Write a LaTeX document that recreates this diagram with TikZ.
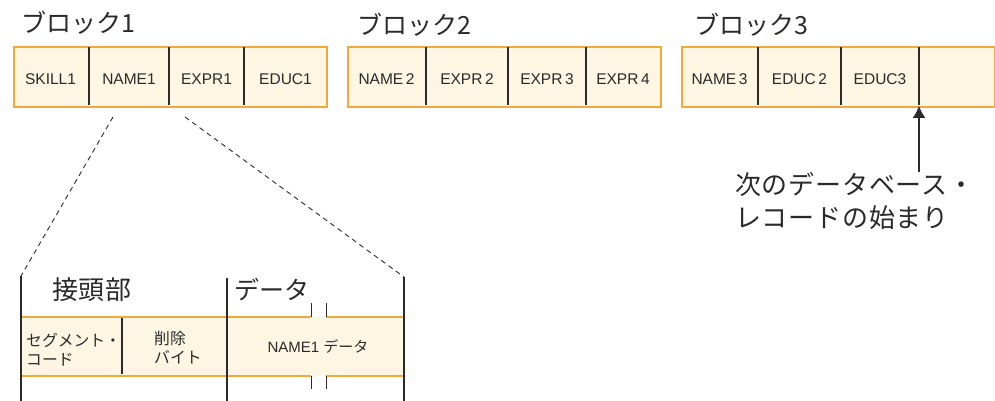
\documentclass[tikz,border=0pt]{standalone}
\usepackage{fontspec}
\setmainfont{Liberation Sans}
\newfontfamily\jp{Noto Sans CJK JP}
\newfontfamily\jpwide[LetterSpace=3]{Noto Sans CJK JP}
\usetikzlibrary{arrows.meta}
\definecolor{cream}{HTML}{FDF6E3}
\definecolor{orng}{HTML}{F2A93B}
\definecolor{ink}{HTML}{2A2A2A}
\begin{document}
\begin{tikzpicture}[x=1pt,y=-1pt,
  blockbox/.style={draw=orng,line width=1.6pt,fill=cream,inner sep=0pt,anchor=north west,minimum width=313pt,minimum height=60pt},
  divider/.style={draw=ink,line width=1.1pt},
  celltext/.style={font=\fontsize{15.5}{18}\selectfont,anchor=base,inner sep=0pt,text=ink},
  bigjp/.style={font=\jp\fontsize{25}{30}\selectfont,anchor=west,inner sep=0pt,text=ink},
  smalljp/.style={font=\jp\fontsize{15.8}{19.5}\selectfont,anchor=west,inner sep=0pt,text=ink,align=left},
  vline/.style={draw=ink,line width=1.1pt},
  dashline/.style={draw=ink,line width=0.9pt,dash pattern=on 5pt off 4pt},
  orangeline/.style={draw=orng,line width=1.8pt},
  arrowline/.style={draw=ink,line width=1.1pt,-{Latex[length=12pt,width=13pt]}}
]
\useasboundingbox (0,0) rectangle (995,401);

% ---- titles
\node[bigjp] (t1) at (21,23) {ブロック1};
\node[bigjp] (t2) at (357,25) {ブロック2};
\node[bigjp] (t3) at (694,25) {ブロック3};

% ---- block 1
\node[blockbox] (b1) at (13,46) {};
\draw[divider] (89,47) -- (89,105);
\draw[divider] (169,47) -- (169,105);
\draw[divider] (244,47) -- (244,105);
\node[celltext] (c11) at (50.5,85) {SKILL1};
\node[celltext] (c12) at (129,85) {NAME1};
\node[celltext] (c13) at (206.5,85) {EXPR1};
\node[celltext] (c14) at (285.5,85) {EDUC1};

% ---- block 2
\node[blockbox] (b2) at (347,46) {};
\draw[divider] (426,47) -- (426,105);
\draw[divider] (508,47) -- (508,105);
\draw[divider] (586,47) -- (586,105);
\node[celltext] (c21) at (386.5,85) {NAME\,2};
\node[celltext] (c22) at (467,85) {EXPR\,2};
\node[celltext] (c23) at (547,85) {EXPR\,3};
\node[celltext] (c24) at (623,85) {EXPR\,4};

% ---- block 3
\node[blockbox] (b3) at (681,46) {};
\draw[divider] (758,47) -- (758,105);
\draw[divider] (841,47) -- (841,105);
\draw[divider] (919,47) -- (919,105);
\node[celltext] (c31) at (719.5,85) {NAME\,3};
\node[celltext] (c32) at (799.5,85) {EDUC\,2};
\node[celltext] (c33) at (880,85) {EDUC3};

% ---- arrow and note
\node[bigjp,align=left,font=\jpwide\fontsize{26}{33}\selectfont] (note) at (735,201) {次のデータベース・\\レコードの始まり};
\coordinate (tip) at (919,106);
\draw[arrowline] (note.north -| tip) -- (tip);

% ---- zoom lines
\coordinate (z1) at (113,117);
\coordinate (z2) at (185,117);
\coordinate (vl) at (21,276);
\coordinate (vm) at (227,278);
\coordinate (vr) at (404,277);
\coordinate (vlb) at (21,401);
\coordinate (vmb) at (227,401);
\coordinate (vrb) at (404,401);
\draw[dashline] (z1) -- (vl);
\draw[dashline] (z2) -- (vr);

% ---- detail band
\fill[cream] (21,317) rectangle (404,376);
\draw[orangeline] (21,317) -- (311,317);
\draw[orangeline] (326,317) -- (404,317);
\draw[orangeline] (21,376) -- (311,376);
\draw[orangeline] (326,376) -- (404,376);
\draw[divider] (122,318) -- (122,374);
\draw[vline] (vl) -- (vlb);
\draw[vline] (vm) -- (vmb);
\draw[vline] (vr) -- (vrb);
% break marks
\draw[divider,line width=0.9pt] (311,303) -- (311,317);
\draw[divider,line width=0.9pt] (326,303) -- (326,317);
\draw[divider,line width=0.9pt] (311,376) -- (311,389);
\draw[divider,line width=0.9pt] (326,376) -- (326,389);

\node[bigjp,font=\jpwide\fontsize{26}{30}\selectfont] (hdr) at (52,290) {接頭部};
\node[bigjp] (dat) at (234,290) {データ};
\node[smalljp] (seg) at (26,349.5) {セグメント・\\コード};
\node[smalljp] (del) at (154,347.5) {削除\\バイト};
\node[celltext,anchor=center,font=\fontsize{15}{18}\selectfont] (nd) at (318,347) {NAME1 {\jp データ}};
\end{tikzpicture}
\end{document}
